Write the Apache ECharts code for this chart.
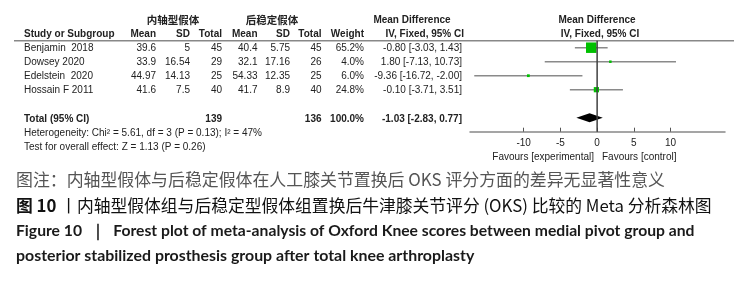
<!DOCTYPE html>
<html>
<head>
<meta charset="utf-8">
<script src="https://cdn.jsdelivr.net/npm/echarts@6/dist/echarts.min.js"></script>
<style>
  html, body { margin: 0; padding: 0; background: #fff; }
  #forest { width: 739px; height: 292px; }
</style>
</head>
<body>
<div id="forest"></div>
<script>
// study data
var studies = ['Benjamin  2018', 'Dowsey 2020', 'Edelstein  2020', 'Hossain F 2011'];
var expMean = [39.6, 33.9, 44.97, 41.6];
var expSD = [5, 16.54, 14.13, 7.5];
var expTotal = [45, 29, 25, 40];
var ctlMean = [40.4, 32.1, 54.33, 41.7];
var ctlSD = [5.75, 17.16, 12.35, 8.9];
var ctlTotal = [45, 26, 25, 40];
var weight = [65.2, 4.0, 6.0, 24.8];
var md = [-0.80, 1.80, -9.36, -0.10];
var ciLow = [-3.03, -7.13, -16.72, -3.71];
var ciHigh = [1.43, 10.73, -2.00, 3.51];
// pooled result
var pooledMD = -1.03, pooledLow = -2.83, pooledHigh = 0.77;
var totals = [139, 136];
var hetChi2 = 5.61, hetDf = 3, hetP = 0.13, hetI2 = 47;
var zVal = 1.13, zP = 0.26;
var xTicks = [-10, -5, 0, 5, 10];
var noEffect = 0;

var FONT = '10px "Liberation Sans", Arial, sans-serif';
var BOLD = 'bold 10px "Liberation Sans", Arial, sans-serif';
var TXT = '#222';

function fmtCI(m, l, h) {
  return m.toFixed(2) + ' [' + l.toFixed(2) + ', ' + h.toFixed(2) + ']';
}
function txt(x, y, s, align, font, color) {
  return {
    type: 'text', x: x, y: y, silent: true,
    style: { text: s, font: font || FONT, fill: color || TXT,
      align: align || 'left', verticalAlign: 'middle',
      textAlign: align || 'left', textVerticalAlign: 'middle' }
  };
}

var gfx = [];
// headers
gfx.push(txt(173, 20.5, '内轴型假体', 'center', 'bold 10.5px "Noto Sans CJK SC", sans-serif'));
gfx.push(txt(272, 20.5, '后稳定假体', 'center', 'bold 10.5px "Noto Sans CJK SC", sans-serif'));
gfx.push(txt(412, 20.5, 'Mean Difference', 'center', BOLD));
gfx.push(txt(597, 20.5, 'Mean Difference', 'center', BOLD));
gfx.push(txt(24, 34.5, 'Study or Subgroup', 'left', BOLD));
gfx.push(txt(156, 34.5, 'Mean', 'right', BOLD));
gfx.push(txt(190, 34.5, 'SD', 'right', BOLD));
gfx.push(txt(222, 34.5, 'Total', 'right', BOLD));
gfx.push(txt(257.5, 34.5, 'Mean', 'right', BOLD));
gfx.push(txt(290, 34.5, 'SD', 'right', BOLD));
gfx.push(txt(321.5, 34.5, 'Total', 'right', BOLD));
gfx.push(txt(364, 34.5, 'Weight', 'right', BOLD));
gfx.push(txt(464, 34.5, 'IV, Fixed, 95% CI', 'right', BOLD));
gfx.push(txt(600, 34.5, 'IV, Fixed, 95% CI', 'center', BOLD));
gfx.push({ type: 'line', silent: true, shape: { x1: 14, y1: 40.7, x2: 734, y2: 40.7 },
  style: { stroke: '#888', lineWidth: 1.5 } });

// study rows
studies.forEach(function (s, i) {
  var y = 48 + i * 14.1;
  gfx.push(txt(24, y, s));
  gfx.push(txt(156, y, String(expMean[i]), 'right'));
  gfx.push(txt(190, y, String(expSD[i]), 'right'));
  gfx.push(txt(222, y, String(expTotal[i]), 'right'));
  gfx.push(txt(257.5, y, String(ctlMean[i]), 'right'));
  gfx.push(txt(290, y, String(ctlSD[i]), 'right'));
  gfx.push(txt(321.5, y, String(ctlTotal[i]), 'right'));
  gfx.push(txt(364, y, weight[i].toFixed(1) + '%', 'right'));
  gfx.push(txt(462, y, fmtCI(md[i], ciLow[i], ciHigh[i]), 'right'));
});

// total rows
var wSum = weight.reduce(function (a, b) { return a + b; }, 0);
gfx.push(txt(24, 119, 'Total (95% CI)', 'left', BOLD));
gfx.push(txt(222, 119, String(totals[0]), 'right', BOLD));
gfx.push(txt(321.5, 119, String(totals[1]), 'right', BOLD));
gfx.push(txt(364, 119, wSum.toFixed(1) + '%', 'right', BOLD));
gfx.push(txt(462, 119, fmtCI(pooledMD, pooledLow, pooledHigh), 'right', BOLD));
gfx.push(txt(24, 133, 'Heterogeneity: Chi² = ' + hetChi2.toFixed(2) + ', df = ' + hetDf +
  ' (P = ' + hetP.toFixed(2) + '); I² = ' + hetI2 + '%'));
gfx.push(txt(24, 147, 'Test for overall effect: Z = ' + zVal.toFixed(2) + ' (P = ' + zP.toFixed(2) + ')'));

// favours labels
gfx.push(txt(594, 157, 'Favours [experimental]', 'right'));
gfx.push(txt(602, 157, 'Favours [control]', 'left'));

// caption
var CJK = '"Noto Sans CJK SC", sans-serif';
gfx.push(txt(16, 180, '图注：内轴型假体与后稳定假体在人工膝关节置换后 OKS 评分方面的差异无显著性意义', 'left',
  '16.9px ' + CJK, '#555'));
gfx.push({
  type: 'text', x: 16, y: 205.5, silent: true,
  style: { text: '{b|图 10} 丨内轴型假体组与后稳定型假体组置换后牛津膝关节评分 (OKS) 比较的 Meta 分析森林图',
    font: '16.8px ' + CJK, fill: '#111', verticalAlign: 'middle', textVerticalAlign: 'middle',
    rich: { b: { fontWeight: 'bold', fontSize: 16.8, fontFamily: 'Noto Sans CJK SC', fill: '#111' } } }
});
gfx.push(txt(16, 230.5, 'Figure 10  ｜  Forest plot of meta-analysis of Oxford Knee scores between medial pivot group and',
  'left', 'bold 15.7px Lato, sans-serif', '#1a1a1a'));
gfx.push(txt(16, 255.5, 'posterior stabilized prosthesis group after total knee arthroplasty',
  'left', 'bold 15.9px Lato, sans-serif', '#1a1a1a'));

var chart = echarts.init(document.getElementById('forest'));
chart.setOption({
  animation: false,
  grid: { left: 470, width: 255, top: 40.7, height: 91 },
  xAxis: {
    type: 'value', min: -17.3, max: 17.4,
    axisLine: { show: true, onZero: false, lineStyle: { color: '#888', width: 1.5 } },
    axisTick: { show: true, inside: true, length: 4, customValues: xTicks,
      lineStyle: { color: '#555', width: 1 } },
    axisLabel: { customValues: xTicks, color: TXT, fontSize: 10,
      fontFamily: '"Liberation Sans", Arial, sans-serif', margin: 7 },
    splitLine: { show: false }
  },
  yAxis: { type: 'value', min: -0.5, max: 6, inverse: true, show: false },
  graphic: { elements: gfx },
  series: [
    {
      type: 'custom',
      dimensions: ['md', 'row', 'lo', 'hi', 'w'],
      encode: { x: ['md', 'lo', 'hi'], y: 'row' },
      data: md.map(function (m, i) { return [m, i, ciLow[i], ciHigh[i], weight[i]]; }),
      renderItem: function (params, api) {
        var row = api.value('row');
        var lo = api.coord([api.value('lo'), row]);
        var hi = api.coord([api.value('hi'), row]);
        var c = api.coord([api.value('md'), row]);
        var s = 2 + api.value('w') * 0.13;
        return {
          type: 'group',
          children: [
            { type: 'line', shape: { x1: lo[0], y1: lo[1], x2: hi[0], y2: hi[1] },
              style: { stroke: '#8a8a8a', lineWidth: 1.5 } },
            { type: 'rect', shape: { x: c[0] - s / 2, y: c[1] - s / 2, width: s, height: s },
              style: { fill: '#00c000' } }
          ]
        };
      },
      z: 3
    },
    {
      type: 'custom',
      dimensions: ['md', 'row', 'lo', 'hi'],
      encode: { x: ['md', 'lo', 'hi'], y: 'row' },
      data: [[pooledMD, 5, pooledLow, pooledHigh]],
      renderItem: function (params, api) {
        var row = api.value('row');
        var lo = api.coord([api.value('lo'), row]);
        var hi = api.coord([api.value('hi'), row]);
        var c = api.coord([api.value('md'), row]);
        return {
          type: 'polygon',
          shape: { points: [[lo[0], c[1]], [c[0], c[1] - 4.5], [hi[0], c[1]], [c[0], c[1] + 4.5]] },
          style: { fill: '#000' }
        };
      },
      z: 4
    }
  ]
});

// line of no effect, placed through the chart's own scales
var zTop = chart.convertToPixel({ gridIndex: 0 }, [noEffect, -0.5]);
var zBottom = chart.convertToPixel({ gridIndex: 0 }, [noEffect, 6]);
gfx.push({
  type: 'rect', silent: true, z: 100,
  shape: { x: zTop[0] - 0.75, y: Math.min(zTop[1], zBottom[1]),
    width: 1.5, height: Math.abs(zBottom[1] - zTop[1]) },
  style: { fill: '#404040' }
});
chart.setOption({ graphic: { elements: gfx } });
</script>
</body>
</html>
